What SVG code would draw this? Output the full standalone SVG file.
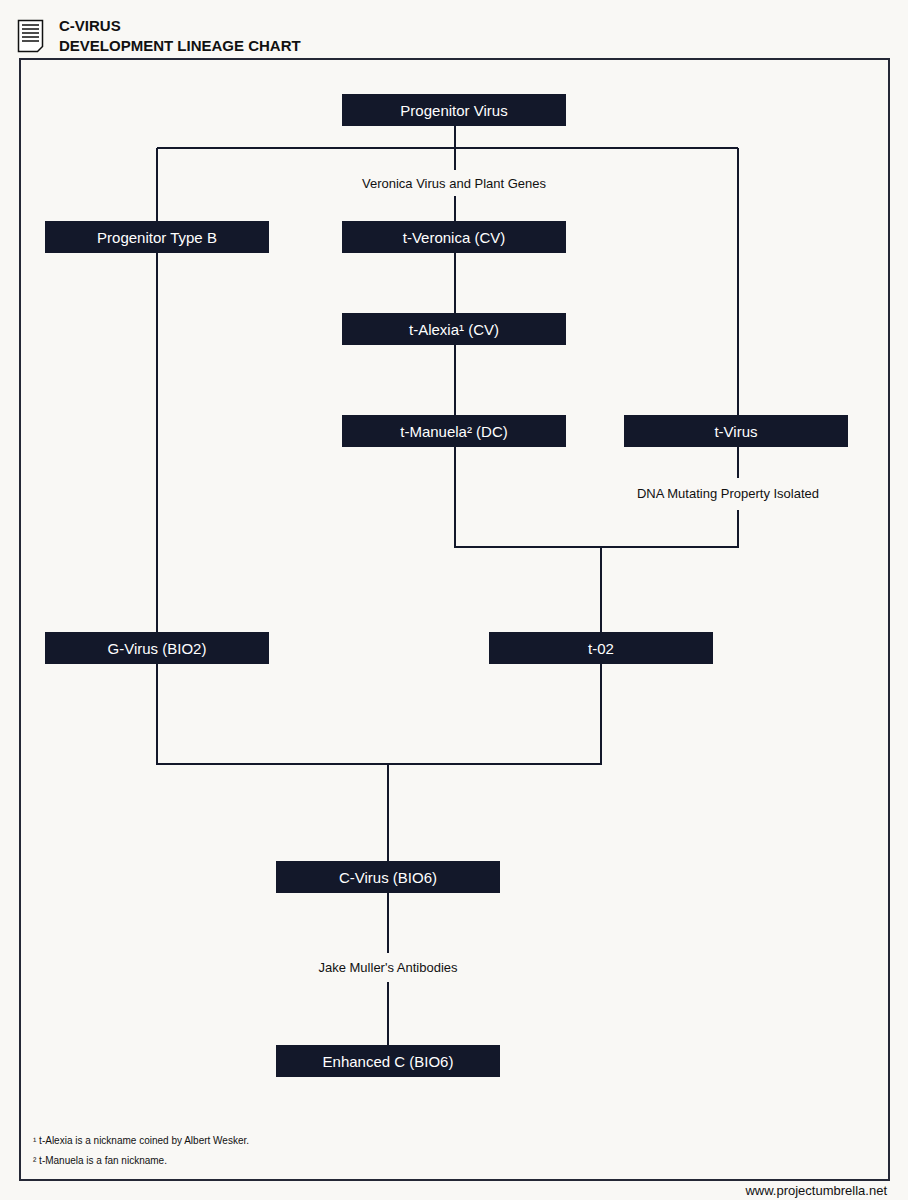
<svg xmlns="http://www.w3.org/2000/svg" width="908" height="1200" viewBox="0 0 908 1200">
<style>
.n rect{fill:#13182a}
.n text{fill:#fff;font-family:"Liberation Sans",Arial,sans-serif;font-size:15px;text-anchor:middle}
.c path{stroke:#13182a;stroke-width:2;fill:none}
.l{font-family:"Liberation Sans",Arial,sans-serif;font-size:13px;fill:#111;text-anchor:middle}
.f{font-family:"Liberation Sans",Arial,sans-serif;font-size:10px;fill:#111}
.h{font-family:"Liberation Sans",Arial,sans-serif;font-size:15px;font-weight:bold;fill:#111}
</style>
<rect width="908" height="1200" fill="#f9f8f5"/>
<g id="header">
<path d="M18.5,20.5h24v26l-5,5h-19z" fill="#fff" stroke="#111" stroke-width="1.5"/>
<path d="M22,25h17M22,29h17M22,33h17M22,37h17M22,41h17" stroke="#111" stroke-width="1.5"/>
<text class="h" x="59" y="31">C-VIRUS</text>
<text class="h" x="59" y="51">DEVELOPMENT LINEAGE CHART</text>
</g>
<rect x="20" y="59" width="869" height="1121" fill="none" stroke="#252836" stroke-width="2"/>
<g class="c" id="connectors">
<path d="M455,126V148M157,148H738M157,148V221M455,148V170M455,196V221M738,148V415"/>
<path d="M455,253V313M455,345V415M455,447V547H601M738,447V478M738,510V547H601M601,547V632"/>
<path d="M157,253V632M157,664V764H601V664M388,764V861M388,893V953M388,982V1045"/>
</g>
<text class="l" x="454" y="188">Veronica Virus and Plant Genes</text>
<text class="l" x="728" y="498">DNA Mutating Property Isolated</text>
<text class="l" x="388" y="972">Jake Muller's Antibodies</text>
<g class="n" id="n1"><rect x="342" y="94" width="224" height="32"/><text x="454" y="116">Progenitor Virus</text></g>
<g class="n" id="n2"><rect x="45" y="221" width="224" height="32"/><text x="157" y="243">Progenitor Type B</text></g>
<g class="n" id="n3"><rect x="342" y="221" width="224" height="32"/><text x="454" y="243">t-Veronica (CV)</text></g>
<g class="n" id="n4"><rect x="342" y="313" width="224" height="32"/><text x="454" y="335">t-Alexia¹ (CV)</text></g>
<g class="n" id="n5"><rect x="342" y="415" width="224" height="32"/><text x="454" y="437">t-Manuela² (DC)</text></g>
<g class="n" id="n6"><rect x="624" y="415" width="224" height="32"/><text x="736" y="437">t-Virus</text></g>
<g class="n" id="n7"><rect x="45" y="632" width="224" height="32"/><text x="157" y="654">G-Virus (BIO2)</text></g>
<g class="n" id="n8"><rect x="489" y="632" width="224" height="32"/><text x="601" y="654">t-02</text></g>
<g class="n" id="n9"><rect x="276" y="861" width="224" height="32"/><text x="388" y="883">C-Virus (BIO6)</text></g>
<g class="n" id="n10"><rect x="276" y="1045" width="224" height="32"/><text x="388" y="1067">Enhanced C (BIO6)</text></g>
<text class="f" x="33" y="1144">¹ t-Alexia is a nickname coined by Albert Wesker.</text>
<text class="f" x="33" y="1164">² t-Manuela is a fan nickname.</text>
<text x="887" y="1195" font-family="Liberation Sans,Arial,sans-serif" font-size="13" fill="#111" text-anchor="end">www.projectumbrella.net</text>
</svg>
